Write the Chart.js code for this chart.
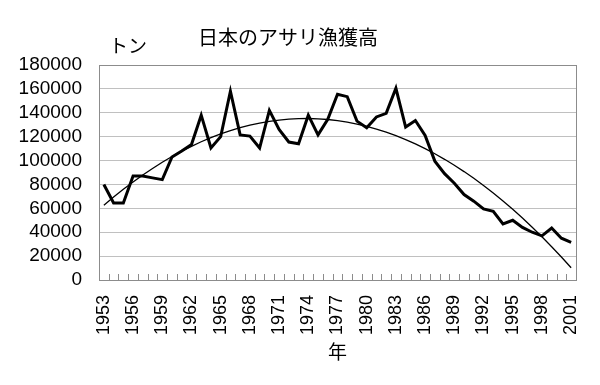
<!DOCTYPE html>
<html>
<head>
<meta charset="utf-8">
<script src="https://cdn.jsdelivr.net/npm/chart.js@4/dist/chart.umd.min.js"></script>
<style>
html,body{margin:0;padding:0;background:#fff;}
#wrap{width:600px;height:385px;position:relative;}
</style>
</head>
<body>
<div id="wrap"><canvas id="c" width="600" height="385"></canvas></div>
<script>
const years = ["1953","1954","1955","1956","1957","1958","1959","1960","1961","1962",
  "1963","1964","1965","1966","1967","1968","1969","1970","1971","1972",
  "1973","1974","1975","1976","1977","1978","1979","1980","1981","1982",
  "1983","1984","1985","1986","1987","1988","1989","1990","1991","1992",
  "1993","1994","1995","1996","1997","1998","1999","2000","2001"];
const catchTons = [80000,64500,64500,87000,87000,85500,84000,103000,108000,113500,
  138000,110500,120000,158000,121500,120500,110500,142000,126000,115500,
  114000,138000,121500,134500,155500,153500,133000,127500,136500,139500,
  160500,128000,133500,121000,99500,89000,81000,71500,66000,59500,
  57500,47000,50000,44000,40000,37000,43500,35000,31500];
const shownYears = ["1953","1956","1959","1962","1965","1968","1971","1974","1977",
  "1980","1983","1986","1989","1992","1995","1998","2001"];
const yTicks = [0,20000,40000,60000,80000,100000,120000,140000,160000,180000];
const titleText = "日本のアサリ漁獲高";
const yUnit = "トン";
const xTitle = "年";

// second-order polynomial least-squares trendline fitted to the data (as in the original chart)
function polyFit2(ys){
  const n = ys.length;
  let S0=0,S1=0,S2=0,S3=0,S4=0,T0=0,T1=0,T2=0;
  for(let i=0;i<n;i++){const x=i+1,y=ys[i];
    S0+=1;S1+=x;S2+=x*x;S3+=x*x*x;S4+=x*x*x*x;T0+=y;T1+=x*y;T2+=x*x*y;}
  const A=[[S0,S1,S2,T0],[S1,S2,S3,T1],[S2,S3,S4,T2]];
  for(let c=0;c<3;c++){
    for(let r=c+1;r<3;r++){const f=A[r][c]/A[c][c];for(let k=c;k<4;k++)A[r][k]-=f*A[c][k];}
  }
  const co=[0,0,0];
  for(let r=2;r>=0;r--){let s=A[r][3];for(let k=r+1;k<3;k++)s-=A[r][k]*co[k];co[r]=s/A[r][r];}
  return ys.map((_,i)=>{const x=i+1;return co[0]+co[1]*x+co[2]*x*x;});
}
const trend = polyFit2(catchTons);

const NUM_FONT = "'Liberation Sans', Arial, 'Noto Sans CJK JP', sans-serif";
const JP_FONT = "'Noto Sans CJK JP', 'Noto Sans', sans-serif";

const framePlugin = {
  id:'frame',
  afterDraw(chart){
    const {ctx, chartArea:a, scales:{x}} = chart;
    ctx.save();
    ctx.strokeStyle = '#8c8c8c';
    ctx.lineWidth = 1;
    ctx.beginPath();
    for(let i=0;i<years.length-1;i++){
      const px = Math.round((x.getPixelForValue(i)+x.getPixelForValue(i+1))/2)+0.5;
      ctx.moveTo(px, a.bottom);
      ctx.lineTo(px, a.bottom-6);
    }
    ctx.stroke();
    ctx.strokeRect(Math.round(a.left)+0.5, Math.round(a.top)+0.5, Math.round(a.right-a.left), Math.round(a.bottom-a.top));
    ctx.fillStyle = '#000';
    ctx.font = "19px " + JP_FONT;
    ctx.textAlign = 'left';
    ctx.textBaseline = 'middle';
    ctx.fillText(yUnit, 109, 46);
    ctx.restore();
  }
};

new Chart(document.getElementById('c'), {
  type:'line',
  data:{
    labels: years,
    datasets:[
      {label:'漁獲高', data: catchTons, borderColor:'#000', borderWidth:3, pointRadius:0, tension:0, fill:false, order:1},
      {label:'多項式 (漁獲高)', data: trend, borderColor:'#000', borderWidth:1.3, pointRadius:0, tension:0, fill:false, order:2}
    ]
  },
  options:{
    responsive:false,
    animation:false,
    layout:{padding:{left:0,right:24,top:0,bottom:0}},
    plugins:{
      legend:{display:false},
      tooltip:{enabled:false},
      title:{display:true, text:titleText, color:'#000',
        font:{family:JP_FONT, size:20, weight:'normal', lineHeight:1.2},
        padding:{top:25,bottom:16}}
    },
    scales:{
      x:{
        type:'category',
        offset:true,
        grid:{display:false, drawTicks:false},
        border:{display:true, color:'#8c8c8c'},
        ticks:{autoSkip:false, maxRotation:90, minRotation:90, padding:15, color:'#000',
          font:{family:NUM_FONT, size:18},
          callback:function(v,i){const l=years[i]; return shownYears.includes(l)?l:'';}},
        title:{display:true, text:xTitle, color:'#000', font:{family:JP_FONT,size:19}, padding:{top:0,bottom:22}},
        afterFit(s){s.height=105; s.paddingLeft=0; s.paddingRight=0;}
      },
      y:{
        min:0, max:180000,
        afterBuildTicks(s){s.ticks = yTicks.map(v=>({value:v}));},
        grid:{color:'#c0c0c0', drawTicks:false},
        border:{display:true, color:'#8c8c8c'},
        ticks:{autoSkip:false, padding:17, color:'#000', font:{family:NUM_FONT, size:19},
          callback:function(v){return String(v);}},
        afterFit(s){s.width=99; s.paddingTop=0; s.paddingBottom=0;}
      }
    }
  },
  plugins:[framePlugin]
});
</script>
</body>
</html>
